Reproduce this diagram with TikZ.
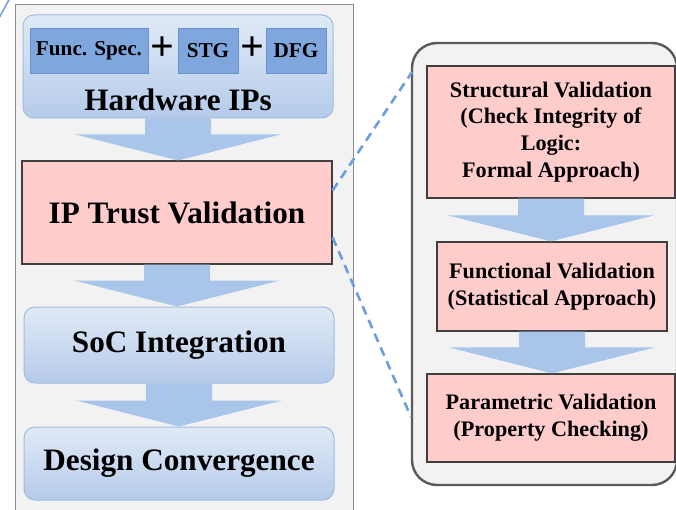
\documentclass[tikz,border=0pt]{standalone}
\usepackage{fontspec}
\setmainfont{Liberation Serif}
\usetikzlibrary{calc}

\definecolor{panelfill}{HTML}{F2F2F2}
\definecolor{paneledge}{HTML}{8C8C8C}
\definecolor{zoomedge}{HTML}{5A5A5A}
\definecolor{pinkfill}{HTML}{FFCCCC}
\definecolor{pinkedge}{HTML}{404040}
\definecolor{bluetop}{HTML}{E0EAF6}
\definecolor{bluebot}{HTML}{B5CBEA}
\definecolor{blueedge}{HTML}{A0BBE0}
\definecolor{tagfill}{HTML}{7FA7DE}
\definecolor{tagedge}{HTML}{6A93CE}
\definecolor{arrowfill}{HTML}{A9C5EA}
\definecolor{dashblue}{HTML}{6F9CDE}

\tikzset{
  bigtext/.style={font=\bfseries\fontsize{31.2}{34}\selectfont},
  stagebox/.style={rectangle, rounded corners=11pt, draw=blueedge, line width=1pt,
    top color=bluetop, bottom color=bluebot, inner sep=0pt, minimum width=310pt},
  trustbox/.style={rectangle, draw=pinkedge, fill=pinkfill, line width=1.2pt,
    inner sep=0pt, align=center},
  tagbox/.style={rectangle, draw=tagedge, fill=tagfill, line width=0.8pt, inner sep=0pt,
    minimum height=45pt, font=\bfseries\fontsize{21.2}{24}\selectfont},
  stepbox/.style={trustbox, font=\bfseries\fontsize{22.2}{26.7}\selectfont},
  plustext/.style={font=\bfseries\fontsize{42}{42}\selectfont},
  zoomline/.style={dashblue, line width=2.6pt, dash pattern=on 9pt off 6pt}
}

\begin{document}
\begin{tikzpicture}[x=1pt, y=-1pt]
\useasboundingbox (0,0) rectangle (676,510);

% panels
\draw[fill=panelfill, draw=paneledge, line width=1pt] (15,5) rectangle (353,520);
\draw[fill=panelfill, draw=zoomedge, line width=2.4pt, rounded corners=25pt] (412,43) rectangle (677,485);
\draw[dashblue, line width=1.5pt] (-1,18) -- (10,-2);

% left flow
\node[stagebox, minimum height=103pt] (hw) at (178,66.5) {};
\node[bigtext] (hwlbl) at (178,100) {Hardware IPs};
\node[tagbox, minimum width=118pt] (func) at (89,50.5) {Func. Spec.};
\node[plustext] (plusa) at (162,49) {+};
\node[tagbox, minimum width=60pt] (stg) at (208,50.5) {STG};
\node[plustext] (plusb) at (252,49) {+};
\node[tagbox, minimum width=60pt] (dfg) at (296,50.5) {DFG};

\node[trustbox, bigtext, minimum width=310pt, minimum height=103pt] (ipv) at (177,212.5) {IP Trust Validation};
\node[stagebox, bigtext, minimum height=76pt] (soc) at (179,345) {SoC Integration};
\node[stagebox, bigtext, minimum height=73pt] (dc) at (179,463.5) {Design Convergence};

% right flow
\node[stepbox, minimum width=248pt, minimum height=132pt] (sv) at (551,132)
  {Structural Validation\\(Check Integrity of\\Logic:\\Formal Approach)};
\node[stepbox, minimum width=230pt, minimum height=89pt] (fv) at (552,286.5)
  {Functional Validation\\(Statistical Approach)};
\node[stepbox, minimum width=248pt, minimum height=88pt] (pv) at (551,418)
  {Parametric Validation\\(Property Checking)};

% block arrows
\foreach \a/\b in {hw/ipv, ipv/soc, soc/dc, sv/fv, fv/pv}
  \fill[arrowfill] ($(\a.south)+(-33,0)$) -- ($(\a.south)+(33,0)$)
    -- ($(\a.south |- \b.north)+(33,-26)$) -- ($(\a.south |- \b.north)+(103,-26)$)
    -- (\a.south |- \b.north) -- ($(\a.south |- \b.north)+(-103,-26)$)
    -- ($(\a.south |- \b.north)+(-33,-26)$) -- cycle;

% zoom lines
\coordinate (zt) at (412,72);
\coordinate (zb) at (411,417);
\draw[zoomline] ([yshift=22pt]ipv.east) -- (zt);
\draw[zoomline] ([yshift=-25pt]ipv.east) -- (zb);

\end{tikzpicture}
\end{document}
